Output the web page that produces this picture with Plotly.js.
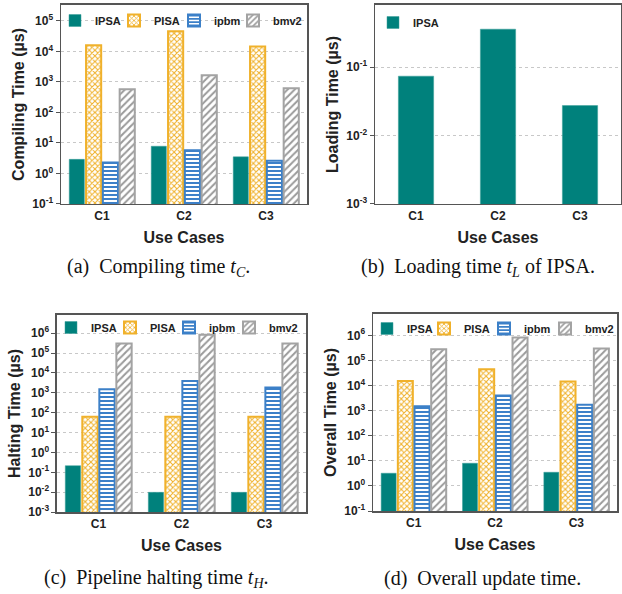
<!DOCTYPE html>
<html><head><meta charset="utf-8">
<script src="https://cdn.plot.ly/plotly-3.0.1.min.js"></script>
<style>body{margin:0;padding:0;background:#fff}#c{width:622px;height:594px}</style>
</head><body><div id="c"></div>
<script>
const categories = ["C1", "C2", "C3"];
const seriesNames = ["IPSA", "PISA", "ipbm", "bmv2"];
// (a) compiling time (µs)
const compileIPSA = [2.9, 7.8, 3.5];
const compilePISA = [16000, 46000, 14500];
const compileIpbm = [2.3, 5.8, 2.6];
const compileBmv2 = [575, 1650, 620];
// (b) loading time of IPSA (µs)
const loadIPSA = [0.074, 0.36, 0.0275];
// (c) halting time (µs)
const haltIPSA = [0.215, 0.0098, 0.0098];
const haltPISA = [62, 62, 62];
const haltIpbm = [1530, 4000, 1850];
const haltBmv2 = [310000, 840000, 310000];
// (d) overall time (µs)
const overallIPSA = [3.2, 8.0, 3.5];
const overallPISA = [15300, 45000, 14400];
const overallIpbm = [1500, 3970, 1730];
const overallBmv2 = [280000, 820000, 300000];
// tick labels
const tickA = [-1, 0, 1, 2, 3, 4, 5];
const tickB = [-3, -2, -1];
const tickC = [-3, -2, -1, 0, 1, 2, 3, 4, 5, 6];
const tickD = [-1, 0, 1, 2, 3, 4, 5, 6];
const captions = ["(a)  Compiling time <i>t</i><sub><i>C</i></sub>.",
  "(b)  Loading time <i>t</i><sub><i>L</i></sub> of IPSA.",
  "(c)  Pipeline halting time <i>t</i><sub><i>H</i></sub>.",
  "(d)  Overall update time."];
const yTitles = ["Compiling Time (µs)", "Loading Time (µs)", "Halting Time (µs)", "Overall Time (µs)"];

const teal = "#00817C", orange = "#F0B12B", blue = "#3C80C8", gray = "#A3A3A3";
const styles = [
  {color: teal, line: {color: "#3a9e99", width: 0.5}},
  {color: "white", line: {color: orange, width: 2}, pattern: {shape: "x", fgcolor: orange, bgcolor: "white", size: 4, solidity: 0.45}},
  {color: "white", line: {color: blue, width: 2}, pattern: {shape: "-", fgcolor: blue, bgcolor: "white", size: 4, solidity: 0.5}},
  {color: "white", line: {color: gray, width: 2}, pattern: {shape: "/", fgcolor: "#9a9a9a", bgcolor: "white", size: 5, solidity: 0.4}}
];

// legend swatch positions in px (left edge x, center y) for each panel
const legendPos = {
  a: [[69, 17], [128, 17], [188, 17], [247, 17]],
  b: [[387, 19]],
  c: [[65, 324], [124, 324], [183, 324], [243, 324]],
  d: [[381, 325], [438, 325], [498, 325], [559, 325]]
};

const F = "Liberation Sans, Arial, sans-serif";
const data = [];
const legends = {};
let legCount = 0;
function mk(vals, i, xa, ya, pos) {
  legCount += 1;
  const key = legCount === 1 ? "legend" : "legend" + legCount;
  legends[key] = {orientation: "h", x: (pos[0] - 14) / 622, y: 1 - (pos[1] - 11) / 594,
    xanchor: "left", yanchor: "top", bgcolor: "rgba(0,0,0,0)",
    font: {family: F, size: 11, weight: "bold", color: "#222"}, itemwidth: 30, itemclick: false};
  return {type: "bar", x: categories, y: vals, name: seriesNames[i], xaxis: xa, yaxis: ya,
    legend: key, marker: styles[i], hoverinfo: "skip"};
}
[compileIPSA, compilePISA, compileIpbm, compileBmv2].forEach((v, i) => data.push(mk(v, i, "x", "y", legendPos.a[i])));
const tb = mk(loadIPSA, 0, "x2", "y2", legendPos.b[0]); tb.width = 0.43; data.push(tb);
[haltIPSA, haltPISA, haltIpbm, haltBmv2].forEach((v, i) => data.push(mk(v, i, "x3", "y3", legendPos.c[i])));
[overallIPSA, overallPISA, overallIpbm, overallBmv2].forEach((v, i) => data.push(mk(v, i, "x4", "y4", legendPos.d[i])));

function xax(dom, anchor) {
  return {domain: dom, anchor: anchor, showline: true, mirror: true, linecolor: "#555", linewidth: 1.5,
    ticks: "", tickfont: {family: F, size: 12, weight: "bold", color: "#222"},
    title: {text: "Use Cases", font: {family: F, size: 16, weight: "bold", color: "#222"}, standoff: 10}};
}
function yax(dom, anchor, range, tv, title) {
  return {domain: dom, anchor: anchor, type: "log", range: range, showline: true, mirror: true,
    linecolor: "#555", linewidth: 1.5, ticks: "outside", ticklen: 4, tickcolor: "#555",
    tickvals: tv.map(e => Math.pow(10, e)), ticktext: tv.map(e => "10<sup>" + e + "</sup>"),
    tickfont: {family: F, size: 12, weight: "bold", color: "#222"},
    showgrid: true, gridcolor: "#c8c8c8", griddash: "dot", gridwidth: 1, zeroline: false,
    title: {text: title, font: {family: F, size: 16, weight: "bold", color: "#222"}, standoff: 3}};
}
const layout = Object.assign({
  width: 622, height: 594, margin: {l: 0, r: 0, t: 0, b: 0}, paper_bgcolor: "white", plot_bgcolor: "white",
  bargap: 0.18, bargroupgap: 0.1, barmode: "group", showlegend: true,
  xaxis: xax([0.0981, 0.4936], "y"),
  yaxis: yax([0.6566, 0.9916], "x", [-1, 5.52], tickA, yTitles[0]),
  xaxis2: xax([0.6029, 0.9984], "y2"),
  yaxis2: yax([0.6566, 0.9916], "x2", [-3, -0.09], tickB, yTitles[1]),
  xaxis3: xax([0.0916, 0.492], "y3"),
  yaxis3: yax([0.138, 0.4697], "x3", [-3, 6.92], tickC, yTitles[2]),
  xaxis4: xax([0.5997, 0.992], "y4"),
  yaxis4: yax([0.1397, 0.4714], "x4", [-1, 6.85], tickD, yTitles[3]),
  annotations: [[158, 268], [478, 268], [157, 578], [482, 578]].map((p, i) => ({
    text: captions[i], xref: "paper", yref: "paper", x: p[0] / 622, y: 1 - p[1] / 594,
    xanchor: "center", yanchor: "middle", showarrow: false,
    font: {family: "Liberation Serif, Times New Roman, serif", size: 20, color: "#111"}}))
}, legends);
Plotly.newPlot("c", data, layout, {staticPlot: true});
</script></body></html>
